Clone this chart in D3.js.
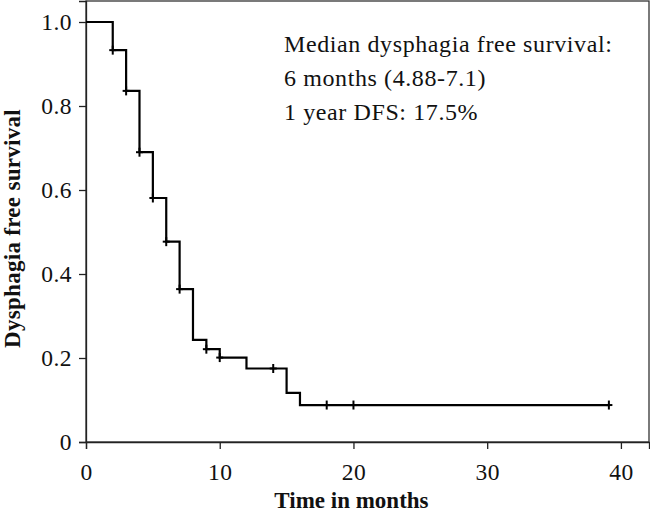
<!DOCTYPE html>
<html>
<head>
<meta charset="utf-8">
<script src="https://cdn.jsdelivr.net/npm/d3@7/dist/d3.min.js"></script>
<style>
  html, body { margin: 0; padding: 0; background: #fff; }
  svg { display: block; }
</style>
</head>
<body>
<svg id="chart" width="650" height="520"></svg>
<script>
// ---- data ----
const stepTimes    = [0, 2, 3, 4, 5, 6, 7, 8, 9, 10, 12, 15, 16, 39.1];
const stepSurvival = [1.0, 0.933, 0.836, 0.690, 0.581, 0.477, 0.364, 0.243, 0.221, 0.201, 0.175, 0.117, 0.088, 0.088];
const censorTimes    = [2, 3, 4, 5, 6, 7, 9, 10, 14, 18, 20, 39.1];
const censorSurvival = [0.933, 0.836, 0.690, 0.581, 0.477, 0.364, 0.221, 0.201, 0.175, 0.088, 0.088, 0.088];
const xTicks = [0, 10, 20, 30, 40];
const yTicks = [0, 0.2, 0.4, 0.6, 0.8, 1.0];
const yTickLabels = ["0", "0.2", "0.4", "0.6", "0.8", "1.0"];
const annotationLines = [
  "Median dysphagia free survival:",
  "6 months (4.88-7.1)",
  "1 year DFS: 17.5%"
];
const xTitle = "Time in months";
const yTitle = "Dysphagia free survival";

// ---- layout ----
const svg = d3.select("#chart");
const margin = { left: 86, right: 1, top: 1, bottom: 78 };
const W = 650, H = 520;
const FONT = "'Liberation Serif', 'Times New Roman', serif";

const x = d3.scaleLinear().domain([0, 42.1]).range([margin.left, W - margin.right]);
const y = d3.scaleLinear().domain([0, 1.05]).range([H - margin.bottom, margin.top]);

// frame
svg.append("rect")
  .attr("x", margin.left).attr("y", margin.top)
  .attr("width", W - margin.right - margin.left)
  .attr("height", H - margin.bottom - margin.top)
  .attr("fill", "none").attr("stroke", "#333").attr("stroke-width", 1.3);

// axes
const xAxis = svg.append("g")
  .attr("transform", `translate(0,${y(0)})`)
  .call(d3.axisBottom(x).tickValues(xTicks).tickSize(7).tickPadding(14).tickFormat(d3.format("d")));
const yAxis = svg.append("g")
  .attr("transform", `translate(${x(0)},0)`)
  .call(d3.axisLeft(y).tickValues(yTicks).tickSize(7).tickPadding(7)
    .tickFormat((d, i) => yTickLabels[i]));

[xAxis, yAxis].forEach(g => {
  g.select(".domain").attr("stroke", "#222").attr("stroke-width", 1.3);
  g.selectAll(".tick line").attr("stroke", "#222").attr("stroke-width", 1.3);
  g.selectAll(".tick text").attr("font-family", FONT).attr("font-size", 23.5)
    .attr("letter-spacing", 0.5).attr("fill", "#111");
});

// KM step line
const pts = stepTimes.map((t, i) => [t, stepSurvival[i]]);
svg.append("path")
  .datum(pts)
  .attr("fill", "none").attr("stroke", "#000").attr("stroke-width", 2.2)
  .attr("d", d3.line().x(d => x(d[0])).y(d => y(d[1])).curve(d3.curveStepAfter));

// censor marks (+)
const cg = svg.append("g").attr("stroke", "#000").attr("stroke-width", 2);
censorTimes.forEach((t, i) => {
  const cx = x(t), cy = y(censorSurvival[i]);
  cg.append("line").attr("x1", cx).attr("x2", cx).attr("y1", cy - 4.5).attr("y2", cy + 4.5);
  cg.append("line").attr("x1", cx - 3.5).attr("x2", cx + 3.5).attr("y1", cy).attr("y2", cy);
});

// annotation
const ann = svg.append("text")
  .attr("font-family", FONT).attr("font-size", 24).attr("letter-spacing", 0.6).attr("fill", "#111");
annotationLines.forEach((s, i) => {
  ann.append("tspan").attr("x", 284).attr("y", 52 + i * 34).text(s);
});

// axis titles
svg.append("text")
  .attr("x", x(20) - 2).attr("y", 508)
  .attr("text-anchor", "middle")
  .attr("font-family", FONT).attr("font-weight", "bold").attr("font-size", 23).attr("fill", "#111")
  .text(xTitle);
svg.append("text")
  .attr("transform", `translate(20,${(y(0) + y(1.05)) / 2 + 7}) rotate(-90)`)
  .attr("text-anchor", "middle")
  .attr("font-family", FONT).attr("font-weight", "bold").attr("font-size", 23).attr("letter-spacing", 0.3).attr("fill", "#111")
  .text(yTitle);
</script>
</body>
</html>
